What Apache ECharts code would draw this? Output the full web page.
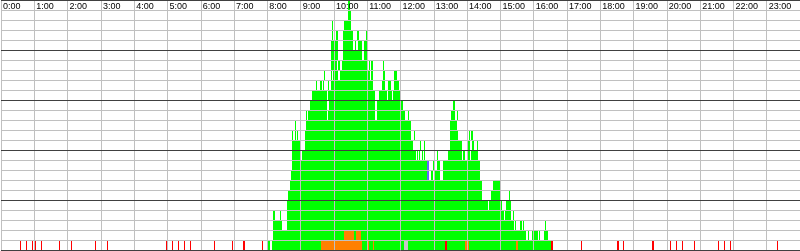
<!DOCTYPE html>
<html>
<head>
<meta charset="utf-8">
<script src="https://cdn.jsdelivr.net/npm/echarts@6/dist/echarts.min.js"></script>
<style>
html,body{margin:0;padding:0;background:#fff;}
#chart{width:800px;height:251px;}
</style>
</head>
<body>
<div id="chart"></div>
<script>
// Hour tick labels along the top
const hourLabels = ['0:00','1:00','2:00','3:00','4:00','5:00','6:00','7:00','8:00','9:00','10:00','11:00',
  '12:00','13:00','14:00','15:00','16:00','17:00','18:00','19:00','20:00','21:00','22:00','23:00'];

// Green cells: one list per level (level 1 = bottom row), each entry [startMinute, endMinute]
const greenLevels = [
  [[482,485],[488,576],[651,661],[663,670],[672,727],[734,801],[803,837],[843,929],[931,991]],
  [[490,618],[637,640],[648,947],[949,951],[957,959],[961,968],[970,972],[979,985]],
  [[491,506],[515,925],[927,929],[936,939],[941,943],[981,983]],
  [[491,493],[502,504],[515,907],[909,920],[922,925]],
  [[515,875],[876,878],[880,903],[911,920]],
  [[518,866],[884,900],[916,918]],
  [[520,866],[887,900]],
  [[522,768],[775,779],[783,792],[796,864]],
  [[524,768],[778,782],[786,792],[797,864]],
  [[524,541],[543,748],[750,752],[754,756],[758,761],[763,765],[786,788],[806,831],[833,836],[841,845],[847,860]],
  [[524,539],[547,743],[755,757],[763,765],[809,830],[842,846],[848,853],[857,859]],
  [[525,527],[529,531],[534,536],[547,739],[745,747],[809,823],[843,845],[847,851]],
  [[529,531],[550,739],[809,822]],
  [[549,551],[553,588],[590,674],[678,728],[733,736],[811,819],[821,823]],
  [[557,588],[591,674],[678,725],[815,818]],
  [[561,588],[590,674],[682,695],[698,704],[707,721]],
  [[567,570],[575,578],[580,583],[590,592],[595,671],[686,692],[698,703],[709,718]],
  [[582,584],[594,597],[599,608],[611,665],[667,671],[689,692],[709,713]],
  [[594,606],[608,611],[615,661],[663,665],[667,671],[689,691]],
  [[594,608],[616,651],[654,662]],
  [[594,607],[616,635],[638,640],[643,651],[654,661]],
  [[596,599],[603,607],[617,634],[641,645],[657,660]],
  [[596,598],[619,631]],
  [[625,631]],
  [[626,629]]
];

// Other cell categories: [level, startMinute, endMinute]
const orangeCells = [[1,576,651],[1,661,663],[1,670,672],[1,837,843],[1,929,931],[2,618,637],[2,640,648]];
const blueCells = [[8,768,772],[9,768,772]];
const greyCells = [[1,727,734]];
const redCells = [[1,34,36],[1,45,47],[1,56,58],[1,61,63],[1,72,74],[1,104,106],[1,126,128],[1,169,171],
  [1,191,193],[1,297,299],[1,308,310],[1,319,321],[1,329,331],[1,340,342],[1,383,385],[1,416,418],
  [1,437,439],[1,470,472],[1,801,803],[1,991,994],[1,1046,1048],[1,1111,1113],[1,1121,1123],
  [1,1174,1176],[1,1206,1208],[1,1217,1219],[1,1228,1230],[1,1249,1251],[1,1292,1294],[1,1303,1305],
  [1,1314,1316],[1,1399,1401]];

const greenCells = [];
greenLevels.forEach(function (segs, i) {
  segs.forEach(function (s) { greenCells.push([i + 1, s[0], s[1]]); });
});

function renderCell(params, api) {
  const lvl = api.value(0), s = api.value(1), e = api.value(2);
  const p0 = api.coord([s, lvl - 1]);
  const p1 = api.coord([e, lvl]);
  const x0 = Math.round(p0[0]), x1 = Math.round(p1[0]);
  const y0 = Math.round(p1[1]), y1 = Math.round(p0[1]);
  return {
    type: 'rect',
    shape: { x: x0, y: y0, width: Math.max(1, x1 - x0), height: y1 - y0 },
    style: { fill: api.visual('color') }
  };
}

function cellSeries(data, color) {
  return {
    type: 'custom',
    renderItem: renderCell,
    data: data,
    itemStyle: { color: color },
    encode: { x: [1, 2], y: 0 },
    silent: true,
    animation: false,
    z: 2
  };
}

const chart = echarts.init(document.getElementById('chart'), null, { renderer: 'canvas' });
chart.setOption({
  animation: false,
  backgroundColor: '#ffffff',
  grid: { left: 0, right: 0, top: 0, bottom: 1, containLabel: false },
  xAxis: {
    type: 'value', position: 'top', min: 0, max: 1440, interval: 60, z: 9,
    axisLine: { show: false }, axisTick: { show: false },
    axisLabel: {
      inside: true, align: 'left', verticalAlign: 'top', margin: 2, padding: [0, 0, 0, 2],
      fontFamily: 'Liberation Sans', fontSize: 9, color: '#000',
      showMaxLabel: false,
      formatter: function (v) { return hourLabels[Math.round(v / 60)] || ''; }
    },
    splitLine: { show: true, lineStyle: { color: '#c0c0c0', width: 1 } }
  },
  yAxis: {
    type: 'value', min: 0, max: 25, interval: 1, z: 10,
    axisLine: { show: false }, axisTick: { show: false }, axisLabel: { show: false },
    splitLine: { show: true, lineStyle: { color: ['#404040', '#c0c0c0', '#c0c0c0', '#c0c0c0', '#c0c0c0'], width: 1 } }
  },
  series: [
    cellSeries(greenCells, '#00ff00'),
    cellSeries(orangeCells, '#ff8000'),
    cellSeries(blueCells, '#6464ff'),
    cellSeries(greyCells, '#c8c8c8'),
    cellSeries(redCells, '#ff0000')
  ]
});
</script>
</body>
</html>
